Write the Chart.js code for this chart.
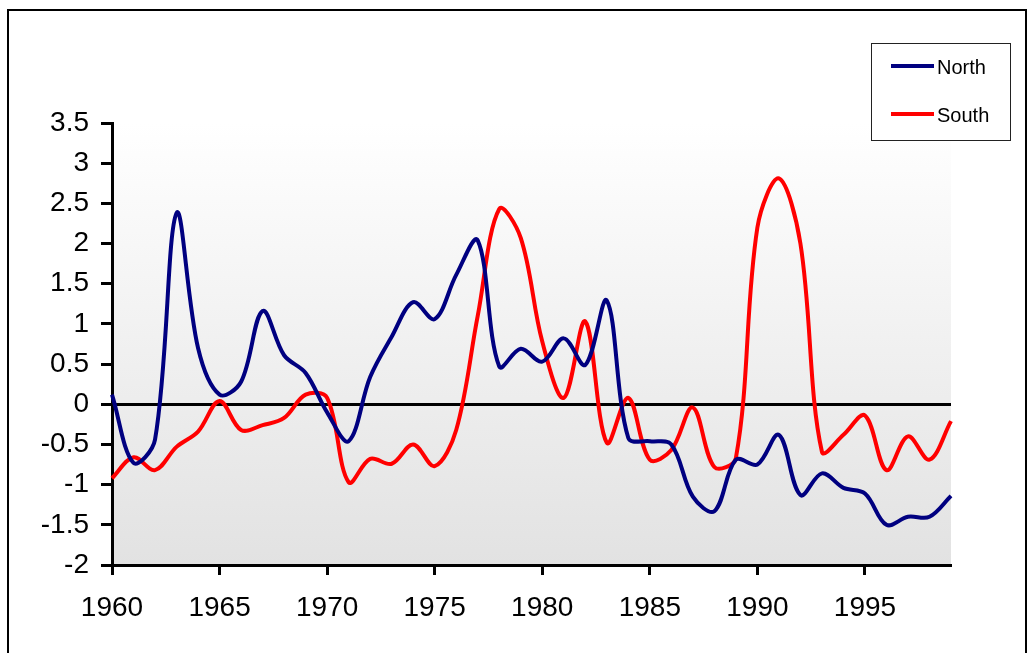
<!DOCTYPE html>
<html>
<head>
<meta charset="utf-8">
<script src="https://cdn.jsdelivr.net/npm/chart.js@4.4.0/dist/chart.umd.min.js"></script>
<style>
	body { margin: 0; background: #fff; }
	canvas { display: block; }
</style>
</head>
<body>
<canvas id="chrt" width="1034" height="653"></canvas>
<script>
var years = [];
for (var y = 1960; y <= 1999; y++) years.push(String(y));

var north = [0.12, -0.73, -0.44, 2.38, 0.70, 0.12, 0.28, 1.16, 0.61, 0.39,
	-0.10, -0.46, 0.34, 0.84, 1.27, 1.06, 1.61, 2.04, 0.47, 0.69,
	0.53, 0.82, 0.49, 1.29, -0.42, -0.46, -0.50, -1.15, -1.33, -0.69,
	-0.75, -0.38, -1.13, -0.86, -1.04, -1.11, -1.50, -1.40, -1.40, -1.14];

var south = [-0.92, -0.66, -0.82, -0.53, -0.34, 0.04, -0.32, -0.26, -0.17, 0.12,
	0.08, -0.97, -0.68, -0.74, -0.50, -0.77, -0.32, 1.10, 2.43, 2.07,
	0.78, 0.08, 1.03, -0.48, 0.08, -0.69, -0.57, -0.04, -0.78, -0.67,
	2.20, 2.81, 2.00, -0.59, -0.38, -0.14, -0.82, -0.40, -0.69, -0.21];

var font = '"Liberation Sans", Arial, sans-serif';
Chart.defaults.color = '#000';
Chart.defaults.font.family = font;

// frame + gradient plot background + own legend box
var deco = {
	id: 'deco',
	beforeDraw: function (c) {
		var ctx = c.ctx, a = c.chartArea;
		ctx.save();
		ctx.fillStyle = '#fff';
		ctx.fillRect(0, 0, c.width, c.height);
		var g = ctx.createLinearGradient(0, a.top, 0, a.bottom);
		g.addColorStop(0, '#ffffff');
		g.addColorStop(1, '#e2e2e2');
		ctx.fillStyle = g;
		ctx.fillRect(a.left, a.top, a.right - a.left, a.bottom - a.top);
		ctx.strokeStyle = '#000';
		ctx.lineWidth = 2;
		ctx.strokeRect(8, 10, 1018, 700);
		ctx.restore();
	},
	afterDraw: function (c) {
		var ctx = c.ctx;
		ctx.save();
		ctx.fillStyle = '#fff';
		ctx.fillRect(871, 43, 139, 97);
		ctx.strokeStyle = '#222';
		ctx.lineWidth = 1;
		ctx.strokeRect(871.5, 43.5, 139, 97);
		var rows = [66, 114];
		c.data.datasets.forEach(function (ds, i) {
			ctx.strokeStyle = ds.borderColor;
			ctx.lineWidth = 4;
			ctx.beginPath();
			ctx.moveTo(891, rows[i]);
			ctx.lineTo(934, rows[i]);
			ctx.stroke();
			ctx.fillStyle = '#000';
			ctx.font = '20px ' + font;
			ctx.textBaseline = 'middle';
			ctx.fillText(ds.label, 937, rows[i] + 2);
		});
		ctx.restore();
	}
};

new Chart(document.getElementById('chrt'), {
	type: 'line',
	data: {
		labels: years,
		datasets: [
			{ label: 'North', data: north, borderColor: '#000080', borderWidth: 4, pointRadius: 0, tension: 0.35, fill: false },
			{ label: 'South', data: south, borderColor: '#ff0000', borderWidth: 4, pointRadius: 0, tension: 0.35, fill: false }
		]
	},
	options: {
		responsive: false,
		animation: false,
		layout: { padding: { top: 123, right: 83, left: 0, bottom: 0 } },
		plugins: { legend: { display: false }, tooltip: { enabled: false } },
		scales: {
			x: {
				offset: false,
				afterFit: function (s) { s.height = 88; },
				border: { color: '#000', width: 3 },
				grid: {
					drawOnChartArea: false,
					tickLength: 10,
					tickWidth: 3,
					tickColor: function (ctx) { return ctx.index % 5 === 0 ? '#000' : 'transparent'; }
				},
				ticks: {
					autoSkip: false,
					maxRotation: 0,
					padding: 16,
					font: { size: 28 },
					callback: function (v, i) { return i % 5 === 0 ? years[i] : ''; }
				}
			},
			y: {
				min: -2,
				max: 3.5,
				afterFit: function (s) { s.width = 112; },
				border: { color: '#000', width: 3 },
				grid: {
					lineWidth: 3,
					color: function (ctx) { return ctx.tick && ctx.tick.value === 0 ? '#000' : 'transparent'; },
					tickColor: '#000',
					tickLength: 11,
					tickWidth: 3
				},
				ticks: {
					stepSize: 0.5,
					padding: 12,
					font: { size: 28 },
					callback: function (v) { return String(Math.round(v * 10) / 10); }
				}
			}
		}
	},
	plugins: [deco]
});
</script>
</body>
</html>
